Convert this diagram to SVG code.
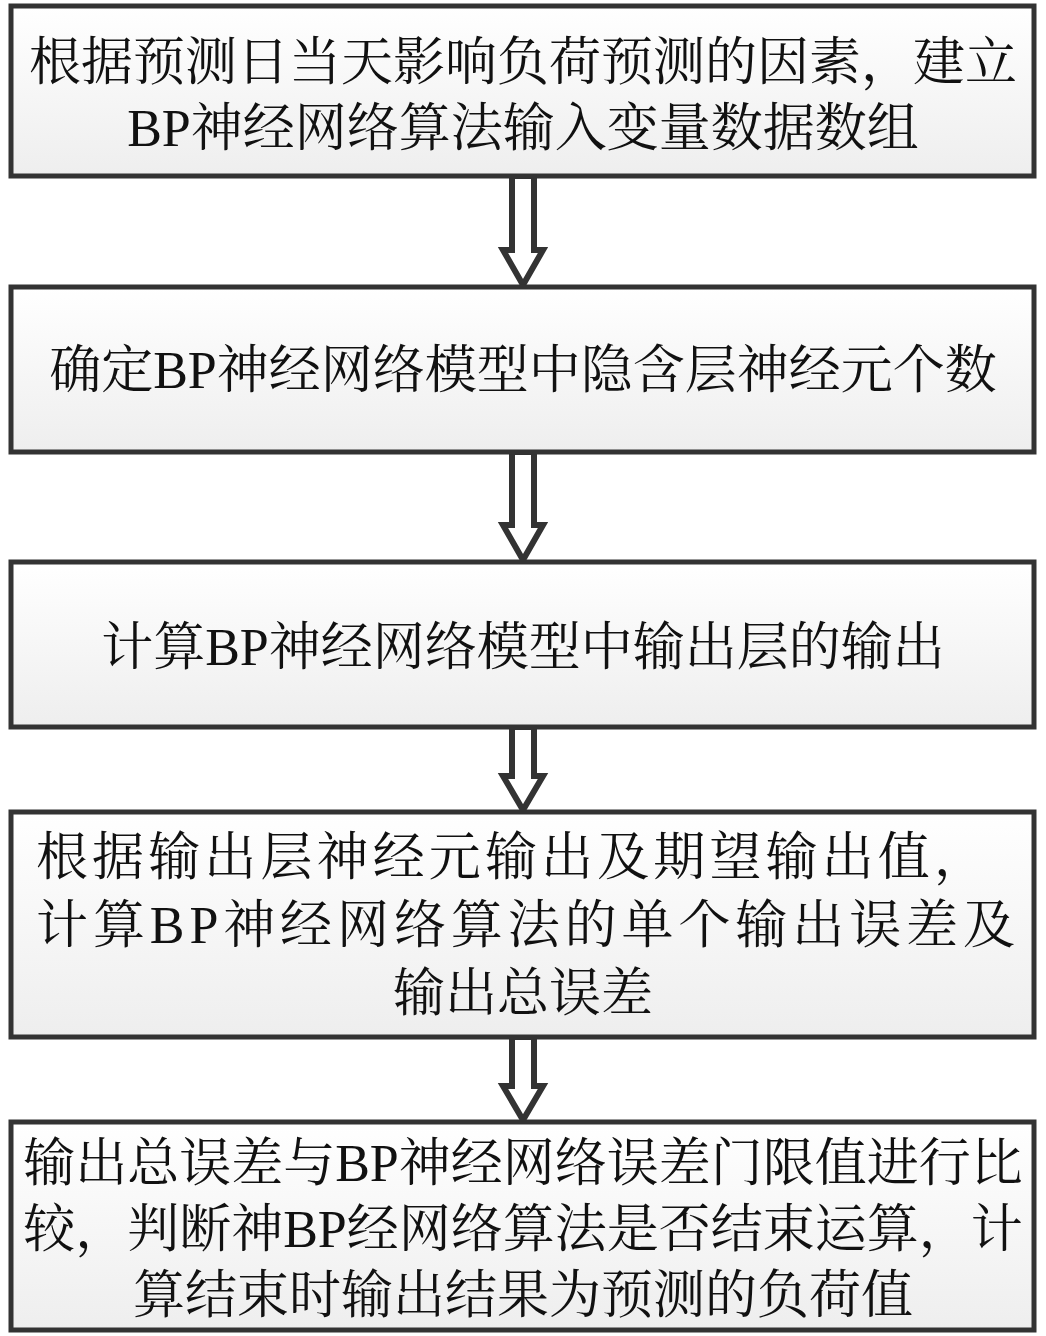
<svg xmlns="http://www.w3.org/2000/svg" width="1046" height="1336" viewBox="0 0 1046 1336">
<defs>
<linearGradient id="g" x1="0" y1="0" x2="0" y2="1"><stop offset="0" stop-color="#ffffff"/><stop offset="1" stop-color="#eeeeee"/></linearGradient>
</defs>
<style>
.box{fill:url(#g);stroke:#333;stroke-width:5}
.t{font-family:"Liberation Serif","Noto Serif CJK SC","Noto Sans CJK SC",serif;font-size:52px;fill:#111;text-anchor:middle;dominant-baseline:central}
.a{fill:#fff;stroke:#333;stroke-width:6;stroke-linejoin:miter}
</style>
<rect width="1046" height="1336" fill="#fff"/>
<g id="connectors">
<path class="a" d="M512,176 V250 H503 L523,285 L543,250 H534 V176 Z"/>
<path class="a" d="M512,452 V525 H503 L523,560 L543,525 H534 V452 Z"/>
<path class="a" d="M512,727 V776 H503 L523,810 L543,776 H534 V727 Z"/>
<path class="a" d="M512,1037 V1086 H503 L523,1120 L543,1086 H534 V1037 Z"/>
</g>
<g id="n1"><rect class="box" x="11" y="6" width="1023" height="170"/>
<text class="t" x="523" y="62">根据预测日当天影响负荷预测的因素，建立</text>
<text class="t" x="523" y="128">BP神经网络算法输入变量数据数组</text></g>
<g id="n2"><rect class="box" x="11" y="287" width="1023" height="165"/>
<text class="t" x="523" y="370">确定BP神经网络模型中隐含层神经元个数</text></g>
<g id="n3"><rect class="box" x="11" y="562" width="1023" height="165"/>
<text class="t" x="523" y="647">计算BP神经网络模型中输出层的输出</text></g>
<g id="n4"><rect class="box" x="11" y="812" width="1023" height="225"/>
<text class="t" x="36" y="857" style="text-anchor:start" textLength="950" lengthAdjust="spacing">根据输出层神经元输出及期望输出值，</text>
<text class="t" x="36" y="925" style="text-anchor:start" textLength="979" lengthAdjust="spacing">计算BP神经网络算法的单个输出误差及</text>
<text class="t" x="523" y="993">输出总误差</text></g>
<g id="n5"><rect class="box" x="11" y="1122" width="1023" height="208"/>
<text class="t" x="523" y="1163">输出总误差与BP神经网络误差门限值进行比</text>
<text class="t" x="523" y="1229">较，判断神BP经网络算法是否结束运算，计</text>
<text class="t" x="523" y="1295">算结束时输出结果为预测的负荷值</text></g>
</svg>
